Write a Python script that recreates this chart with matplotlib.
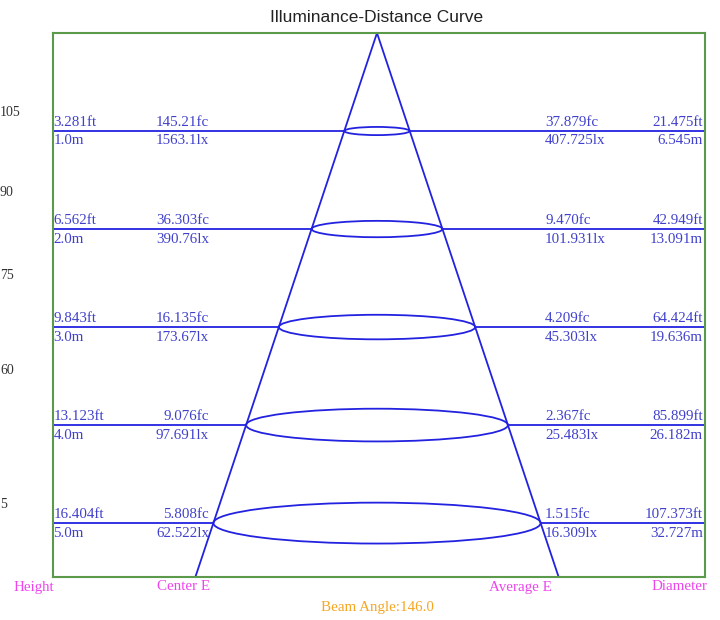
import matplotlib
matplotlib.use("Agg")
import matplotlib.pyplot as plt
from matplotlib.patches import Ellipse
import matplotlib.transforms as mtransforms

# ---- data ----
heights_m = [1.0, 2.0, 3.0, 4.0, 5.0]
height_ft_labels = ["3.281ft", "6.562ft", "9.843ft", "13.123ft", "16.404ft"]
height_m_labels = ["1.0m", "2.0m", "3.0m", "4.0m", "5.0m"]
center_fc_labels = ["145.21fc", "36.303fc", "16.135fc", "9.076fc", "5.808fc"]
center_lx_labels = ["1563.1lx", "390.76lx", "173.67lx", "97.691lx", "62.522lx"]
avg_fc_labels = ["37.879fc", "9.470fc", "4.209fc", "2.367fc", "1.515fc"]
avg_lx_labels = ["407.725lx", "101.931lx", "45.303lx", "25.483lx", "16.309lx"]
diam_ft_labels = ["21.475ft", "42.949ft", "64.424ft", "85.899ft", "107.373ft"]
diameters_m = [6.545, 13.091, 19.636, 26.182, 32.727]
diam_m_labels = ["6.545m", "13.091m", "19.636m", "26.182m", "32.727m"]
side_numbers = ["105", "90", "75", "60", "5"]
side_number_px = [112, 193, 275, 370, 505]
beam_angle = 146.0
column_titles = ["Height", "Center E", "Average E", "Diameter"]

# ---- style ----
W, H = 720, 620
LINE = "#2222e0"
TXT = "#4040cc"
MAG = "#ee44ee"
ORANGE = "#f5a623"
GREEN = "#5a9a4a"
serif = ["Liberation Serif", "DejaVu Serif"]
FS = 10.8

fig = plt.figure(figsize=(W / 100, H / 100), dpi=100)
fig.patch.set_facecolor("white")
L, R, T, B = 53, 705, 33, 577
ax = fig.add_axes([L / W, 1 - B / H, (R - L) / W, (B - T) / H])
x_left, x_right = -32.4, 32.8
y_bottom = 5.55
ax.set_xlim(x_left, x_right)
ax.set_ylim(y_bottom, 0)
ax.set_xticks([])
ax.set_yticks([])
for s in ax.spines.values():
    s.set_color(GREEN)
    s.set_linewidth(1.5)

# cone
slope = diameters_m[-1] / 2 / heights_m[-1]
ax.plot([0, -slope * y_bottom], [0, y_bottom], color=LINE, lw=1.3, clip_on=False)
ax.plot([0, slope * y_bottom], [0, y_bottom], color=LINE, lw=1.3, clip_on=False)

up = mtransforms.offset_copy(ax.transData, fig=fig, x=0, y=1.5, units="points")
down = mtransforms.offset_copy(ax.transData, fig=fig, x=0, y=-2.5, units="points")

px_per_x = (R - L) / (x_right - x_left)
px_per_y = (B - T) / y_bottom
ell_ratio = 0.125

for i, h in enumerate(heights_m):
    d = diameters_m[i]
    ax.plot([x_left, -d / 2], [h, h], color=LINE, lw=1.3)
    ax.plot([d / 2, x_right], [h, h], color=LINE, lw=1.3)
    eh = d * px_per_x * ell_ratio / px_per_y
    ax.add_patch(Ellipse((0, h), d, eh, fill=False, edgecolor=LINE, lw=1.3))
    ax.text(x_left + 0.05, h, height_ft_labels[i], transform=up, ha="left", va="bottom",
            color=TXT, fontsize=FS, family=serif)
    ax.text(x_left + 0.05, h, height_m_labels[i], transform=down, ha="left", va="top",
            color=TXT, fontsize=FS, family=serif)
    ax.text(-16.8, h, center_fc_labels[i], transform=up, ha="right", va="bottom",
            color=TXT, fontsize=FS, family=serif)
    ax.text(-16.8, h, center_lx_labels[i], transform=down, ha="right", va="top",
            color=TXT, fontsize=FS, family=serif)
    ax.text(16.8, h, avg_fc_labels[i], transform=up, ha="left", va="bottom",
            color=TXT, fontsize=FS, family=serif)
    ax.text(16.8, h, avg_lx_labels[i], transform=down, ha="left", va="top",
            color=TXT, fontsize=FS, family=serif)
    ax.text(x_right - 0.2, h, diam_ft_labels[i], transform=up, ha="right", va="bottom",
            color=TXT, fontsize=FS, family=serif)
    ax.text(x_right - 0.2, h, diam_m_labels[i], transform=down, ha="right", va="top",
            color=TXT, fontsize=FS, family=serif)

# title
fig.text(377 / W, 1 - 17 / H, "Illuminance-Distance Curve", ha="center", va="center",
         fontsize=12.5, family=["Liberation Sans", "DejaVu Sans"], color="#222222")

# column titles
col_x = [34, 184, 520, 680]
for name, cx in zip(column_titles, col_x):
    fig.text(cx / W, 1 - 587 / H, name, ha="center", va="center", color=MAG,
             fontsize=10.8, family=serif)

fig.text(377 / W, 1 - 608 / H, f"Beam Angle:{beam_angle:.1f}", ha="center", va="center",
         color=ORANGE, fontsize=10.8, family=serif)

for s, py in zip(side_numbers, side_number_px):
    fig.text(0 / W, 1 - py / H, s, ha="left", va="center", color="#333333",
             fontsize=10, family=serif)

fig.savefig("out.png", dpi=100, facecolor="white")
